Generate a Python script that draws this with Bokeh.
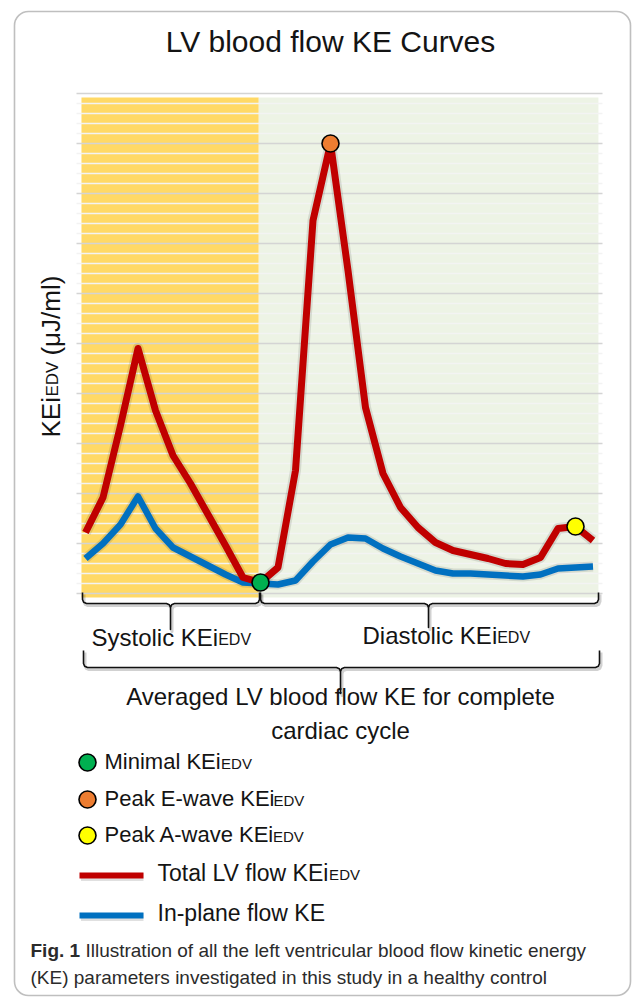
from math import pi
from bokeh.plotting import figure
from bokeh.models import Range1d, Label, BoxAnnotation
from bokeh.embed import file_html
from bokeh.resources import INLINE

# ---------------- data ----------------
frames = list(range(30))
total_ke = [12.2, 19.2, 33.6, 49.0, 36.6, 27.6, 22.0, 15.8, 9.6, 3.2,
            2.2, 5.2, 24.6, 74.6, 90.0, 64.6, 37.2, 24.0, 17.2, 13.2,
            10.2, 8.6, 7.8, 7.0, 6.0, 5.8, 7.2, 13.0, 13.4, 10.6]
inplane_ke = [7.0, 10.0, 13.8, 19.4, 13.0, 9.2, 7.4, 5.6, 3.8, 2.2,
              2.0, 1.8, 2.6, 6.4, 9.8, 11.2, 11.0, 9.0, 7.4, 6.0,
              4.6, 4.0, 4.0, 3.8, 3.6, 3.4, 3.8, 5.0, 5.2, 5.4]
event_labels = ["Minimal KEi", "Peak E-wave KEi", "Peak A-wave KEi"]
event_frames = [10, 14, 28]
event_colors = ["#00B050", "#ED7D31", "#FFFF00"]
major_ticks = list(range(0, 101, 10))
minor_ticks = [v for v in range(0, 101, 2) if v % 10]
phase_start, systole_end, phase_end = -0.23, 9.9, 29.31
phase_bottom, phase_top = -0.8, 99.2

FONT = "Liberation Sans"
TXT = "#141414"

# ---------------- page geometry helpers ----------------
W, H = 633, 998
X0, DX = 85.0, 17.5      # page x of frame 0, px per frame
Y0, DY = 593.0, 5.0      # page y of value 0, px per unit
KB = 0.40                # renderer's baseline offset, as a fraction of font size


def X(px):
    return (px - X0) / DX


def Y(py):
    return (Y0 - py) / DY


ARIAL = {' ': 278, '(': 333, ')': 333, '-': 333, '.': 278, '/': 278, '1': 556,
         'A': 667, 'B': 667, 'C': 722, 'D': 722, 'E': 667, 'F': 611, 'I': 278,
         'K': 667, 'L': 556, 'M': 833, 'P': 667, 'S': 667, 'T': 611, 'V': 667,
         'J': 500, 'a': 556, 'b': 556, 'c': 500, 'd': 556, 'e': 556, 'f': 278,
         'g': 556, 'h': 556, 'i': 222, 'k': 500, 'l': 222, 'm': 833, 'n': 556,
         'o': 556, 'p': 556, 'r': 333, 's': 500, 't': 278, 'u': 556, 'v': 500,
         'w': 722, 'y': 500, 'μ': 576}
ARIAL_BOLD = {'F': 611, 'i': 278, 'g': 611, '.': 278, ' ': 278, '1': 556}


def tw(s, size, bold=False):
    table = ARIAL_BOLD if bold else ARIAL
    return sum(table.get(c, 556) for c in s) / 1000.0 * size


p = figure(width=W, height=H, output_backend="svg", toolbar_location=None,
           x_axis_type=None, y_axis_type=None,
           x_range=Range1d(X(0), X(W)), y_range=Range1d(Y(H), Y(0)),
           min_border=0, min_border_left=0, min_border_right=0,
           min_border_top=0, min_border_bottom=0,
           outline_line_color=None, background_fill_color="white",
           border_fill_color="white")

# phase backgrounds
p.quad(left=[phase_start], right=[systole_end], bottom=[phase_bottom], top=[phase_top],
       fill_color="#FFD966", line_color=None, level="image")
p.quad(left=[systole_end], right=[phase_end], bottom=[phase_bottom], top=[phase_top],
       fill_color="#EDF3E5", line_color=None, level="image")

# horizontal grid lines of the chart area
gx0, gx1 = X(76), X(602)
p.segment(x0=gx0, x1=gx1, y0=minor_ticks, y1=minor_ticks,
          line_color="#F3F3F3", line_width=1.6, level="underlay")
p.segment(x0=gx0, x1=gx1, y0=major_ticks, y1=major_ticks,
          line_color="#D4D4D4", line_width=1.6, level="underlay")

# curves with soft shadow
p.line(frames, total_ke, line_width=11, line_color="black", line_alpha=0.10, line_join="round")
p.line(frames, inplane_ke, line_width=10, line_color="black", line_alpha=0.10, line_join="round")
p.line(frames, inplane_ke, line_width=6.5, line_color="#0070C0", line_join="round")
p.line(frames, total_ke, line_width=7, line_color="#C00000", line_join="round")
p.scatter(event_frames, [total_ke[i] for i in event_frames], size=17,
          fill_color=event_colors, line_color="black", line_width=1.6)


def label(text, px, base, size, align="left", bold=False, color=TXT, ref_size=None):
    """Horizontal text whose baseline lies at page y = base."""
    rs = ref_size or size
    p.add_layout(Label(x=X(px), y=Y(base - KB * rs), text=text, text_font=FONT,
                       text_font_size=f"{size}px", text_align=align,
                       text_baseline="alphabetic", text_color=color,
                       text_font_style="bold" if bold else "normal"))


def vlabel(text, base_x, py, size, ref_size=None):
    """Text rotated 90 degrees; its baseline lies at page x = base_x, starting at page y = py."""
    rs = ref_size or size
    p.add_layout(Label(x=X(base_x - KB * rs), y=Y(py), text=text, text_font=FONT,
                       text_font_size=f"{size}px", text_align="left",
                       text_baseline="alphabetic", angle=pi / 2, text_color=TXT))


def kei_label(main, px, base, size, adj=0.0, sub="EDV"):
    small = round(size * 0.66)
    label(main, px, base, size)
    label(sub, px + tw(main, size) + adj, base, small, ref_size=(size + small) / 2)


# title
label("LV blood flow KE Curves", 330, 53, 30, align="center")

# y axis title (rotated)
ys = 437
vlabel("KEi", 61, ys, 26)
ys -= tw("KEi", 26) + 0.5
vlabel("EDV", 61, ys, 17, ref_size=(26 + 17) / 2)
ys -= tw("EDV", 17) + 6
vlabel("(μJ/ml)", 61, ys, 26)


# braces
def brace(x0, x1, xm, ytop, ybar, ytip, r=4.0):
    pts = [(x0, ytop), (x0, ybar - r), (x0 + 0.3 * r, ybar - 0.3 * r), (x0 + r, ybar),
           (xm - r, ybar), (xm - 0.3 * r, ybar + 0.3 * r), (xm, ybar + r), (xm, ytip),
           (xm, ybar + r), (xm + 0.3 * r, ybar + 0.3 * r), (xm + r, ybar),
           (x1 - r, ybar), (x1 - 0.3 * r, ybar - 0.3 * r), (x1, ybar - r), (x1, ytop)]
    p.line([X(x + 1.5) for x, _ in pts], [Y(y + 2) for _, y in pts],
           line_color="black", line_alpha=0.18, line_width=3, line_join="round")
    p.line([X(x) for x, _ in pts], [Y(y) for _, y in pts],
           line_color="#111111", line_width=1.6, line_join="round")


brace(82, 259, 170, 592, 603, 629)
brace(260, 598, 428, 592, 603, 627)
brace(83, 599, 340, 650, 667, 693)

kei_label("Systolic KEi", 91, 647, 24)
kei_label("Diastolic KEi", 362, 645, 24)
label("Averaged LV blood flow KE for complete", 340, 706, 24, align="center")
label("cardiac cycle", 340, 740, 24, align="center")

# legend
legend_marker_y = [762, 799, 835]
legend_adj = [0.5, -1.0, -1.5]
p.scatter([X(87)] * 3, [Y(v) for v in legend_marker_y], size=17,
          fill_color=event_colors, line_color="black", line_width=1.6)
for name, cy, adj in zip(event_labels, legend_marker_y, legend_adj):
    kei_label(name, 104, cy + 8, 22, adj=adj)

for (name, col, cy, sub) in [("Total LV flow KEi", "#C00000", 875, "EDV"),
                             ("In-plane flow KE", "#0070C0", 915, "")]:
    p.line([X(80.5), X(143)], [Y(cy + 1.5), Y(cy + 1.5)], line_color="black",
           line_alpha=0.12, line_width=8)
    p.line([X(79), X(143)], [Y(cy), Y(cy)], line_color=col, line_width=6)
    if sub:
        kei_label(name, 157, cy + 7, 23, adj=-3.5)
    else:
        label(name, 157, cy + 7, 23)

# caption
CAP = "#2b2b2b"
label("Fig. 1", 30, 958, 19, bold=True, color=CAP)
label("Illustration of all the left ventricular blood flow kinetic energy",
      30 + tw("Fig. 1 ", 19, bold=True), 958, 19, color=CAP)
label("(KE) parameters investigated in this study in a healthy control", 30, 985, 19,
      color=CAP)

# rounded frame around the figure
p.add_layout(BoxAnnotation(left=X(14), right=X(630), top=Y(11), bottom=Y(995),
                           border_radius=14, fill_color=None, fill_alpha=0,
                           line_color="#2a2a2a", line_width=1.6))

open("out.html", "w").write(file_html(p, INLINE))
